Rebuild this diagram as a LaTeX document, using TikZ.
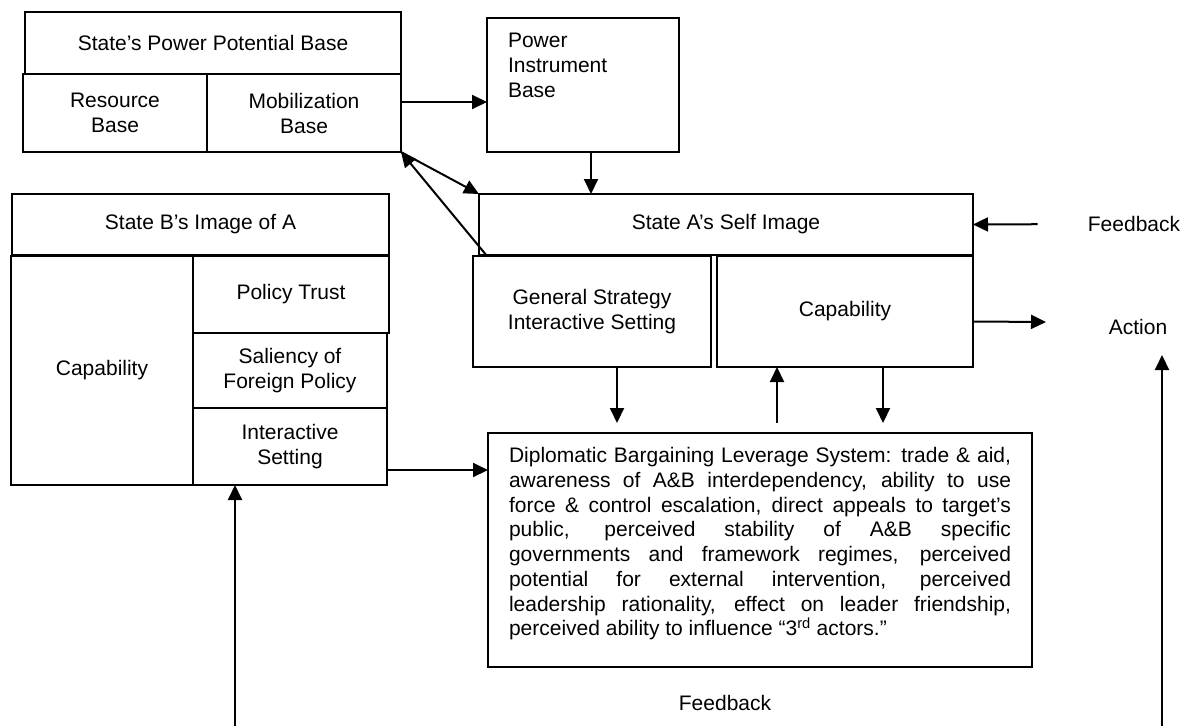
\documentclass[tikz,border=0pt]{standalone}
\usepackage{fontspec}
\setmainfont{Liberation Sans}
\usetikzlibrary{arrows.meta}
\setlength{\parindent}{0pt}
\tikzset{>={Triangle[length=15pt,width=14pt]}}
\tikzset{
  box/.style = {draw, line width=2pt, outer sep=0pt, inner sep=2pt, align=center},
  lbl/.style = {inner sep=0pt},
  link/.style = {->, line width=2pt}
}

\begin{document}
\begin{tikzpicture}[x=1pt,y=-1pt,font=\fontsize{21pt}{25pt}\selectfont]
  \useasboundingbox (0,0) rectangle (1183,726);
  % power potential base
  \node (spb) at (213,43) [box, minimum width=376pt, minimum height=62pt] {State’s Power Potential Base};
  \node (res) at (115,113) [box, minimum width=184pt, minimum height=78pt] {Resource\\Base};
  \node (mob) at (304,113) [box, minimum width=194pt, minimum height=78pt] {Mobilization\\Base};
  % power instrument base
  \node (pib) at (583,85) [box, minimum width=192pt, minimum height=134pt, text width=150pt, align=left] {Power\\Instrument\\Base\\[14pt]\mbox{}};
  % self image of A
  \node (self) at (726,224.5) [box, minimum width=494pt, minimum height=61pt] {State A’s Self Image};
  \node (gen) at (592,311.5) [box, minimum width=238pt, minimum height=111pt] {General Strategy\\Interactive Setting};
  \node (capA) at (845,311.5) [box, minimum width=256pt, minimum height=111pt] {Capability};
  % image of A held by B
  \node (imgB) at (200.5,224.5) [box, minimum width=377pt, minimum height=61pt] {State B’s Image of A};
  \node (capB) at (102,370.5) [box, minimum width=182pt, minimum height=229pt] {Capability};
  \node (trust) at (291,294.5) [box, minimum width=196pt, minimum height=77pt] {Policy Trust};
  \node (sal) at (290,370.5) [box, minimum width=194pt, minimum height=75pt] {Saliency of\\Foreign Policy};
  \node (isB) at (290,446.5) [box, minimum width=194pt, minimum height=77pt] {Interactive\\Setting};
  % bargaining leverage
  \node (dip) at (760,550) [box, line width=1.3pt, minimum width=544pt, minimum height=234pt, text width=502pt, align=justify,
                            font=\fontsize{21pt}{24.7pt}\selectfont]
    {Diplomatic Bargaining Leverage System: trade \& aid,\linebreak
     awareness of A\&B interdependency, ability to use\linebreak
     force \& control escalation, direct appeals to target’s\linebreak
     public, perceived stability of A\&B specific\linebreak
     governments and framework regimes, perceived\linebreak
     potential for external intervention, perceived\linebreak
     leadership rationality, effect on leader friendship,\linebreak
     perceived ability to influence “3\textsuperscript{rd} actors.”\par\vspace{-8pt}\mbox{}};
  % free labels
  \node (fbA) at (1134,224) [lbl] {Feedback};
  \node (act) at (1138,327) [lbl] {Action};
  \node (fbB) at (725,703) [lbl] {Feedback};
  \coordinate (actIn) at (1046,322);
  \coordinate (actTip) at (1162,355);
  \coordinate (actBot) at (1162,726);
  \coordinate (isBot) at (235,726);
  % arrows
  \draw[link] ([yshift=11pt]mob.east) -- ([yshift=-17pt]pib.west);
  \draw[link] ([xshift=8pt]pib.south) -- ([xshift=8pt]pib.south |- self.north);
  \draw[link] (mob.south east) -- (self.north west);
  \draw[link] ([xshift=14pt]gen.north west) -- (mob.south east);
  \draw[link, shorten <=50pt] (fbA.west) -- (self.east);
  \draw[link] ([yshift=-10pt]capA.east) -- (actIn);
  \draw[link] (actBot) -- (actTip);
  \draw[link] (isBot) -- (isBot |- isB.south);
  \draw[link] ([yshift=-23.5pt]isB.east) -- ([yshift=-23.5pt]isB.east -| dip.west);
  \draw[link, shorten >=10pt] ([xshift=25pt]gen.south) -- ([xshift=25pt]gen.south |- dip.north);
  \draw[link, shorten <=10pt] ([xshift=-68pt]capA.south |- dip.north) -- ([xshift=-68pt]capA.south);
  \draw[link, shorten >=10pt] ([xshift=38pt]capA.south) -- ([xshift=38pt]capA.south |- dip.north);
\end{tikzpicture}
\end{document}
